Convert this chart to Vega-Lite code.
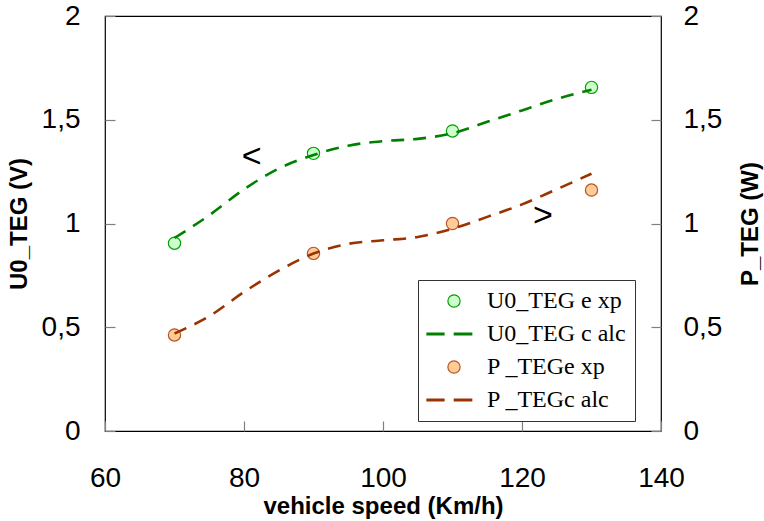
{
  "$schema": "https://vega.github.io/schema/vega-lite/v6.json",
  "autosize": {"type": "none"},
  "padding": {"left": 105, "top": 16, "right": 103, "bottom": 90},
  "width": 556,
  "height": 415,
  "background": "white",
  "datasets": {
    "u0exp": [
      {"series": "U0_TEG e xp", "speed": 70, "value": 0.905},
      {"series": "U0_TEG e xp", "speed": 90, "value": 1.338},
      {"series": "U0_TEG e xp", "speed": 110, "value": 1.446},
      {"series": "U0_TEG e xp", "speed": 130, "value": 1.656}
    ],
    "u0calc": [
      {"series": "U0_TEG c alc", "speed": 70, "value": 0.93},
      {"series": "U0_TEG c alc", "speed": 75, "value": 1.04},
      {"series": "U0_TEG c alc", "speed": 80, "value": 1.165},
      {"series": "U0_TEG c alc", "speed": 85, "value": 1.265},
      {"series": "U0_TEG c alc", "speed": 90, "value": 1.33},
      {"series": "U0_TEG c alc", "speed": 95, "value": 1.375},
      {"series": "U0_TEG c alc", "speed": 100, "value": 1.397},
      {"series": "U0_TEG c alc", "speed": 105, "value": 1.408},
      {"series": "U0_TEG c alc", "speed": 110, "value": 1.435},
      {"series": "U0_TEG c alc", "speed": 115, "value": 1.49},
      {"series": "U0_TEG c alc", "speed": 120, "value": 1.545},
      {"series": "U0_TEG c alc", "speed": 125, "value": 1.6},
      {"series": "U0_TEG c alc", "speed": 130, "value": 1.645}
    ],
    "pexp": [
      {"series": "P _TEGe xp", "speed": 70, "value": 0.463},
      {"series": "P _TEGe xp", "speed": 90, "value": 0.856},
      {"series": "P _TEGe xp", "speed": 110, "value": 1.0},
      {"series": "P _TEGe xp", "speed": 130, "value": 1.161}
    ],
    "pcalc": [
      {"series": "P _TEGc alc", "speed": 70, "value": 0.47},
      {"series": "P _TEGc alc", "speed": 75, "value": 0.553},
      {"series": "P _TEGc alc", "speed": 80, "value": 0.67},
      {"series": "P _TEGc alc", "speed": 85, "value": 0.773},
      {"series": "P _TEGc alc", "speed": 90, "value": 0.855},
      {"series": "P _TEGc alc", "speed": 95, "value": 0.902},
      {"series": "P _TEGc alc", "speed": 100, "value": 0.919},
      {"series": "P _TEGc alc", "speed": 105, "value": 0.935},
      {"series": "P _TEGc alc", "speed": 110, "value": 0.975},
      {"series": "P _TEGc alc", "speed": 115, "value": 1.032},
      {"series": "P _TEGc alc", "speed": 120, "value": 1.092},
      {"series": "P _TEGc alc", "speed": 125, "value": 1.165},
      {"series": "P _TEGc alc", "speed": 130, "value": 1.24}
    ],
    "arrows": [
      {"label": "<", "speed": 81.1, "value": 1.32},
      {"label": ">", "speed": 123.0, "value": 1.036}
    ]
  },
  "encoding": {
    "x": {
      "field": "speed",
      "type": "quantitative",
      "scale": {"domain": [60, 140], "nice": false, "zero": false},
      "axis": {
        "title": "vehicle speed (Km/h)",
        "values": [60, 80, 100, 120, 140],
        "labelFlush": false,
        "offset": -10,
        "labelPadding": 33,
        "titlePadding": 2
      }
    }
  },
  "resolve": {"axis": {"y": "independent"}},
  "layer": [
    {
      "data": {"name": "u0exp"},
      "mark": {"type": "point", "filled": true, "size": 150, "opacity": 1, "strokeWidth": 1.2},
      "encoding": {
        "y": {
          "field": "value",
          "type": "quantitative",
          "scale": {"domain": [0, 2], "nice": false},
          "axis": {
            "orient": "left",
            "title": "U0_TEG (V)",
            "values": [0, 0.5, 1, 1.5, 2],
            "labelExpr": "replace(format(datum.value, '~g'), '.', ',')",
            "labelFlush": false,
            "offset": -10,
            "labelPadding": 25,
            "titlePadding": 10
          }
        },
        "fill": {"field": "series", "type": "nominal", "scale": {"domain": ["U0_TEG e xp", "U0_TEG c alc", "P _TEGe xp", "P _TEGc alc"], "range": ["#ccffcc", "#008000", "#ffcc99", "#993300"]}},
        "stroke": {"field": "series", "type": "nominal", "scale": {"domain": ["U0_TEG e xp", "U0_TEG c alc", "P _TEGe xp", "P _TEGc alc"], "range": ["#00a000", "#008000", "#b85520", "#993300"]}},
        "shape": {"field": "series", "type": "nominal", "scale": {"domain": ["U0_TEG e xp", "U0_TEG c alc", "P _TEGe xp", "P _TEGc alc"], "range": ["circle", "M-4.41,-0.15H-1.63V0.15H-4.41ZM0.05,-0.15H2.9V0.15H0.05Z", "circle", "M-4.41,-0.15H-1.63V0.15H-4.41ZM0.05,-0.15H2.9V0.15H0.05Z"]}}
      }
    },
    {
      "data": {"name": "u0calc"},
      "mark": {"type": "line", "interpolate": "monotone", "strokeDash": [13, 9], "stroke": "#008000", "strokeWidth": 2.6},
      "encoding": {
        "y": {"field": "value", "type": "quantitative", "scale": {"domain": [0, 2], "nice": false}, "axis": null}
      }
    },
    {
      "data": {"name": "pexp"},
      "mark": {"type": "point", "filled": true, "size": 150, "opacity": 1, "strokeWidth": 1.2},
      "encoding": {
        "y": {
          "field": "value",
          "type": "quantitative",
          "scale": {"domain": [0, 2], "nice": false},
          "axis": {
            "orient": "right",
            "title": "P_TEG (W)",
            "titleAngle": 270,
            "values": [0, 0.5, 1, 1.5, 2],
            "labelExpr": "replace(format(datum.value, '~g'), '.', ',')",
            "labelFlush": false,
            "offset": -10,
            "labelPadding": 22,
            "titlePadding": 41
          }
        },
        "fill": {"field": "series", "type": "nominal", "scale": {"domain": ["U0_TEG e xp", "U0_TEG c alc", "P _TEGe xp", "P _TEGc alc"], "range": ["#ccffcc", "#008000", "#ffcc99", "#993300"]}},
        "stroke": {"field": "series", "type": "nominal", "scale": {"domain": ["U0_TEG e xp", "U0_TEG c alc", "P _TEGe xp", "P _TEGc alc"], "range": ["#00a000", "#008000", "#b85520", "#993300"]}},
        "shape": {"field": "series", "type": "nominal", "scale": {"domain": ["U0_TEG e xp", "U0_TEG c alc", "P _TEGe xp", "P _TEGc alc"], "range": ["circle", "M-4.41,-0.15H-1.63V0.15H-4.41ZM0.05,-0.15H2.9V0.15H0.05Z", "circle", "M-4.41,-0.15H-1.63V0.15H-4.41ZM0.05,-0.15H2.9V0.15H0.05Z"]}}
      }
    },
    {
      "data": {"name": "pcalc"},
      "mark": {"type": "line", "interpolate": "monotone", "strokeDash": [13, 9], "stroke": "#993300", "strokeWidth": 2.6},
      "encoding": {
        "y": {"field": "value", "type": "quantitative", "scale": {"domain": [0, 2], "nice": false}, "axis": null}
      }
    },
    {
      "data": {"name": "arrows"},
      "mark": {"type": "text", "font": "Liberation Sans", "fontSize": 34, "align": "center", "baseline": "middle", "color": "black"},
      "encoding": {
        "y": {"field": "value", "type": "quantitative", "scale": {"domain": [0, 2], "nice": false}, "axis": null},
        "text": {"field": "label", "type": "nominal"}
      }
    }
  ],
  "config": {
    "view": {"stroke": "black", "strokeWidth": 1.2},
    "axis": {
      "labelFont": "Liberation Sans",
      "labelFontSize": 28,
      "labelColor": "black",
      "titleFont": "Liberation Sans",
      "titleFontSize": 24,
      "titleFontWeight": "bold",
      "titleColor": "black",
      "domain": false,
      "grid": false,
      "tickColor": "#808080",
      "tickSize": 10,
      "tickWidth": 1.2
    },
    "legend": {
      "orient": "none",
      "legendX": 313,
      "legendY": 264,
      "title": null,
      "strokeColor": "#333333",
      "fillColor": "white",
      "padding": 9,
      "labelFont": "Liberation Serif",
      "labelFontSize": 24,
      "labelColor": "black",
      "rowPadding": 9,
      "symbolSize": 150,
      "symbolStrokeWidth": 1.2,
      "labelOffset": 21,
      "symbolOffset": 15,
      "labelLimit": 300
    }
  }
}
